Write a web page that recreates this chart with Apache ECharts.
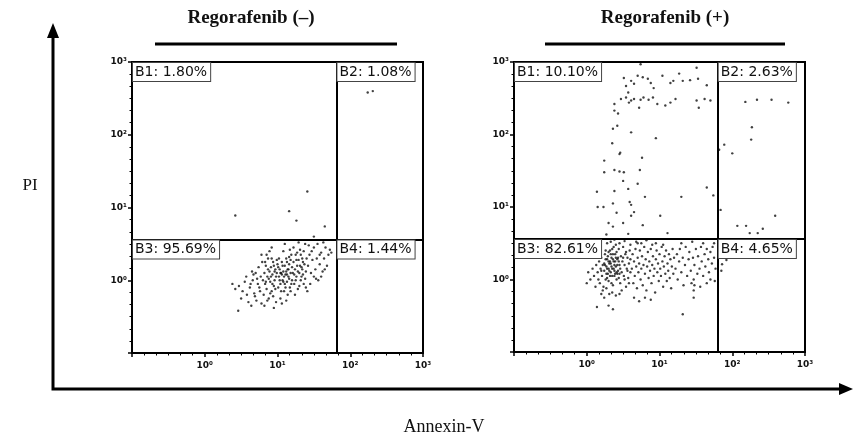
<!DOCTYPE html>
<html>
<head>
<meta charset="utf-8">
<script src="https://cdn.jsdelivr.net/npm/echarts@6/dist/echarts.min.js"></script>
<style>
  html, body { margin: 0; padding: 0; background: #fff; }
  #chart { width: 854px; height: 443px; }
</style>
</head>
<body>
<div id="chart"></div>
<script>
// panel titles and quadrant labels
const panelTitles = ['Regorafenib (–)', 'Regorafenib (+)'];
const quadNeg = ['B1: 1.80%', 'B2: 1.08%', 'B3: 95.69%', 'B4: 1.44%'];
const quadPos = ['B1: 10.10%', 'B2: 2.63%', 'B3: 82.61%', 'B4: 4.65%'];
const tickLabels = { '-1': '', '0': '10⁰', '1': '10¹', '2': '10²', '3': '10³' };

// quadrant gates, log10 units [annexin, PI]
const gateNeg = [1.81, 0.56];
const gatePos = [1.80, 0.56];

// events, log10(Annexin-V), log10(PI)
const eventsNeg = [
  [0.38,-0.05],[0.42,-0.12],[0.47,-0.08],[0.52,-0.15],[0.55,-0.02],[0.58,-0.2],[0.46,-0.42],[0.6,-0.3],[0.5,-0.25],[0.57,0.05],
  [0.62,-0.1],[0.64,-0.35],[0.66,0.0],[0.68,-0.18],[0.7,0.1],[0.71,-0.28],[0.73,-0.05],[0.74,0.18],[0.76,-0.15],[0.77,0.05],
  [0.78,-0.32],[0.79,0.25],[0.65,0.12],[0.69,-0.22],[0.72,0.02],[0.75,-0.1],[0.8,0.0],[0.63,-0.05],[0.67,0.08],[0.78,0.35],
  [0.81,-0.2],[0.82,0.1],[0.83,-0.05],[0.84,0.2],[0.85,-0.12],[0.86,0.05],[0.87,0.3],[0.88,-0.25],[0.89,0.12],[0.9,-0.02],
  [0.91,0.18],[0.92,-0.15],[0.93,0.08],[0.94,0.25],[0.95,-0.08],[0.96,0.0],[0.97,0.15],[0.98,-0.3],[0.99,0.1],[1.0,0.22],
  [0.82,-0.35],[0.85,0.35],[0.88,0.02],[0.9,-0.18],[0.92,0.3],[0.94,-0.22],[0.96,0.12],[0.98,0.05],[0.84,-0.02],[0.87,0.15],
  [0.91,0.05],[0.93,-0.05],[0.95,0.2],[0.97,-0.12],[0.99,0.28],[0.86,-0.28],[0.89,0.4],[0.92,0.45],[0.95,-0.38],[0.83,0.25],
  [1.01,-0.1],[1.02,0.05],[1.03,0.15],[1.04,-0.05],[1.05,0.1],[1.06,0.25],[1.07,0.0],[1.08,0.12],[1.09,-0.15],[1.1,0.2],
  [1.11,0.08],[1.12,0.3],[1.13,-0.02],[1.14,0.15],[1.15,0.05],[1.16,0.22],[1.17,-0.1],[1.18,0.1],[1.19,0.35],[1.2,0.0],
  [1.02,0.3],[1.04,-0.25],[1.06,0.08],[1.08,0.4],[1.1,-0.05],[1.12,0.12],[1.14,-0.2],[1.16,0.02],[1.18,0.28],[1.03,0.0],
  [1.05,-0.15],[1.07,0.2],[1.09,0.05],[1.11,-0.1],[1.13,0.25],[1.15,0.15],[1.17,0.42],[1.19,-0.05],[1.01,0.18],[1.06,-0.32],
  [1.1,0.5],[1.13,0.08],[1.16,0.32],[1.2,0.18],[1.04,0.1],[1.08,-0.02],[1.12,-0.28],[1.18,-0.15],
  [1.21,0.1],[1.22,0.25],[1.23,-0.05],[1.24,0.15],[1.25,0.35],[1.26,0.05],[1.27,0.2],[1.28,-0.12],[1.29,0.28],[1.3,0.1],
  [1.31,0.42],[1.32,0.0],[1.33,0.18],[1.34,0.3],[1.35,0.08],[1.36,-0.05],[1.37,0.22],[1.38,0.5],[1.39,0.12],[1.4,0.3],
  [1.22,0.45],[1.24,-0.2],[1.26,0.28],[1.28,0.12],[1.3,-0.08],[1.32,0.35],[1.34,0.15],[1.36,0.4],[1.38,0.02],[1.23,0.08],
  [1.27,0.38],[1.31,0.2],[1.35,0.25],[1.39,-0.1],[1.25,0.0],[1.29,0.52],[1.33,0.05],
  [1.42,0.2],[1.44,0.35],[1.46,0.1],[1.48,0.28],[1.5,0.45],[1.52,0.15],[1.54,0.3],[1.56,0.0],[1.58,0.22],[1.6,0.38],
  [1.62,0.12],[1.64,0.3],[1.66,0.45],[1.68,0.2],[1.7,0.35],[1.72,0.42],[1.45,-0.05],[1.5,0.05],[1.55,0.5],[1.6,0.05],
  [1.65,0.15],[1.43,0.48],[1.47,0.4],[1.53,0.02],[1.58,0.35],[1.63,0.52],[1.74,0.38],[1.41,-0.15],
  // sparse events above / right of the gate
  [0.42,0.89],[1.16,0.95],[1.26,0.82],[1.41,1.22],[1.65,0.74],[2.24,2.58],[2.31,2.6],[1.5,0.6],[1.9,0.42]
];

const eventsPos = [
  // upper band (late apoptotic / necrotic)
  [0.74,2.97],[0.51,2.78],[0.61,2.74],[0.7,2.81],[0.77,2.79],[0.84,2.77],[0.88,2.71],[0.92,2.64],[0.54,2.67],[0.65,2.7],
  [0.57,2.58],[1.04,2.81],[1.15,2.71],[1.19,2.74],[1.27,2.84],[1.32,2.74],[1.42,2.75],[1.51,2.92],[1.53,2.77],[1.65,2.68],
  [0.38,2.42],[0.47,2.49],[0.54,2.51],[0.61,2.47],[0.65,2.49],[0.74,2.48],[0.78,2.51],[0.85,2.48],[0.91,2.51],[0.97,2.42],
  [1.08,2.4],[1.15,2.44],[1.22,2.49],[1.51,2.47],[1.62,2.49],[1.7,2.47],[1.54,2.37],[0.72,2.37],[0.58,2.44],
  [0.38,2.33],[0.43,2.29],[0.36,2.08],[0.42,2.12],[0.61,2.03],[0.95,1.95],[0.35,1.88],[0.46,1.75],[0.45,1.73],[0.24,1.64],
  [0.76,1.68],[0.38,1.51],[0.45,1.49],[0.51,1.48],[0.24,1.48],[0.73,1.51],[0.5,1.36],[0.7,1.32],[0.57,1.25],[0.14,1.21],
  [0.38,1.22],[1.65,1.27],[0.8,1.14],[1.3,1.14],[1.74,1.16],[0.59,1.07],[0.61,1.03],[0.36,1.05],[0.15,1.0],[0.23,1.0],
  [0.41,0.92],[0.65,0.93],[0.61,0.88],[1.01,0.88],[0.3,0.78],[0.5,0.78],[0.77,0.75],[0.36,0.73],[0.27,0.62],[0.57,0.63],
  [1.11,0.64],
  // B2
  [2.18,2.45],[2.34,2.48],[2.54,2.48],[2.77,2.44],[2.27,2.1],[2.26,1.93],[1.82,1.79],[1.89,1.86],[2.0,1.74],[1.84,0.96],
  [2.59,0.88],[2.07,0.74],[2.19,0.74],[2.24,0.64],[2.35,0.64],[2.42,0.7],
  // main cluster
  [0.15,0.1],[0.17,0.25],[0.18,-0.05],[0.19,0.15],[0.2,0.3],[0.21,0.05],[0.22,0.2],[0.23,-0.1],[0.24,0.12],[0.25,0.35],
  [0.26,0.0],[0.27,0.18],[0.28,0.28],[0.29,0.08],[0.3,-0.02],[0.31,0.22],[0.32,0.4],[0.33,0.1],[0.34,0.3],[0.35,0.15],
  [0.36,-0.08],[0.37,0.25],[0.38,0.05],[0.39,0.35],[0.4,0.18],[0.41,0.0],[0.42,0.28],[0.43,0.12],[0.44,0.42],[0.45,0.2],
  [0.46,-0.05],[0.47,0.32],[0.48,0.1],[0.49,0.25],[0.5,0.45],[0.51,0.05],[0.52,0.2],[0.53,0.35],[0.54,-0.1],[0.55,0.15],
  [0.56,0.3],[0.57,0.02],[0.58,0.22],[0.59,0.4],[0.6,0.1],
  [0.16,0.0],[0.18,0.32],[0.2,0.12],[0.22,-0.15],[0.24,0.22],[0.26,0.4],[0.28,0.02],[0.3,0.15],[0.32,0.25],[0.34,-0.05],
  [0.36,0.35],[0.38,0.2],[0.4,0.48],[0.42,0.08],[0.44,0.25],[0.46,0.15],[0.48,-0.15],[0.5,0.3],[0.52,0.0],[0.54,0.38],
  [0.56,0.12],[0.58,-0.05],[0.6,0.28],
  [0.25,0.2],[0.27,0.08],[0.29,0.32],[0.31,0.12],[0.33,0.22],[0.35,0.05],[0.37,0.15],[0.39,0.25],[0.41,0.1],[0.43,0.3],
  [0.45,0.08],[0.26,0.28],[0.28,0.15],[0.3,0.38],[0.32,0.05],[0.34,0.18],[0.36,0.28],[0.38,0.12],[0.4,0.3],[0.42,0.2],
  [0.44,0.02],[0.3,0.25],[0.33,0.35],[0.35,0.42],[0.37,0.45],[0.39,0.08],[0.41,0.38],[0.27,-0.12],[0.31,-0.2],[0.35,-0.18],
  [0.4,-0.22],[0.45,-0.2],[0.2,-0.2],[0.24,-0.25],[0.13,0.2],[0.1,0.05],[0.08,0.15],[0.05,0.0],[0.12,-0.1],[0.02,0.1],
  [0.0,-0.05],
  [0.28,0.5],[0.33,0.52],[0.38,0.55],[0.45,0.5],[0.52,0.53],[0.6,0.48],[0.68,0.52],[0.75,0.5],[0.82,0.54],[0.9,0.48],
  [0.62,0.15],[0.63,0.35],[0.64,-0.05],[0.65,0.25],[0.66,0.05],[0.67,0.42],[0.68,0.18],[0.69,-0.12],[0.7,0.3],[0.71,0.1],
  [0.72,0.22],[0.73,0.4],[0.74,0.0],[0.75,0.15],[0.76,0.32],[0.77,-0.08],[0.78,0.2],[0.79,0.45],[0.8,0.08],[0.81,0.28],
  [0.82,-0.15],[0.83,0.18],[0.84,0.38],[0.85,0.02],[0.86,0.25],[0.87,0.12],[0.88,0.42],[0.89,-0.05],[0.9,0.2],[0.91,0.32],
  [0.92,0.05],[0.93,0.15],[0.94,-0.18],[0.95,0.28],[0.96,0.4],[0.97,0.1],[0.98,0.22],[0.99,-0.02],[1.0,0.35],[1.01,0.15],
  [1.02,0.05],[1.03,0.45],[1.04,0.25],[1.05,-0.1],[1.06,0.18],[1.07,0.32],[1.08,0.08],[1.09,0.4],[1.1,-0.02],[1.11,0.22],
  [1.12,0.12],[1.13,0.35],[1.14,0.02],[1.15,0.28],[1.16,-0.12],[1.17,0.18],[1.18,0.42],[1.19,0.08],[1.2,0.3],
  [0.65,-0.25],[0.72,-0.3],[0.8,-0.25],[0.88,-0.28],[0.7,0.5],[0.95,0.5],[1.05,0.48],
  [1.22,0.15],[1.24,0.35],[1.25,0.0],[1.27,0.25],[1.28,0.42],[1.3,0.1],[1.32,0.3],[1.33,-0.08],[1.35,0.2],[1.36,0.45],
  [1.38,0.05],[1.4,0.28],[1.41,0.38],[1.43,0.12],[1.44,-0.05],[1.46,0.3],[1.48,0.2],[1.5,0.42],[1.52,0.08],[1.53,0.32],
  [1.55,0.15],[1.57,0.45],[1.58,0.25],[1.6,0.05],[1.62,0.35],[1.63,0.18],[1.65,0.42],[1.67,0.28],[1.68,0.1],[1.7,0.38],
  [1.72,0.22],[1.73,0.45],[1.75,0.3],[1.77,0.15],[1.47,-0.15],[1.47,-0.25],[1.48,-0.08],[1.47,0.0],[1.56,-0.1],[1.65,-0.05],
  [1.7,0.0],[1.76,-0.02],[1.3,0.5],[1.45,0.52],[1.6,0.5],[1.75,0.5],
  [0.14,-0.38],[0.3,-0.36],[0.36,-0.41],[1.32,-0.48],[1.86,0.21],[1.92,0.27],[1.85,0.12],[2.03,0.33],[1.83,0.4],[1.95,0.45]
];

const chart = echarts.init(document.getElementById('chart'));
const grids = [
  { left: 132, top: 62, width: 291, height: 291 },
  { left: 514, top: 62, width: 291, height: 290 }
];
const gates = [gateNeg, gatePos];
const quads = [quadNeg, quadPos];

function axis(i, kind) {
  return {
    type: 'value', gridIndex: i, min: -1, max: 3, interval: 1,
    axisLine: { show: true, onZero: false, lineStyle: { color: '#000', width: 2 } },
    axisTick: { show: true, length: 4, lineStyle: { color: '#000', width: 1.5 } },
    minorTick: { show: true, splitNumber: 6, length: 2.5, lineStyle: { color: '#000', width: 1 } },
    splitLine: { show: false },
    axisLabel: {
      fontSize: 9, fontWeight: 'bold', color: '#111', fontFamily: 'DejaVu Sans',
      margin: kind === 'x' ? 8 : 5,
      formatter: v => tickLabels[String(v)] || ''
    }
  };
}

const graphics = [];
// panel titles with underline
const titleCx = [251, 665];
const lineX = [[155, 397], [545, 785]];
panelTitles.forEach((t, i) => {
  graphics.push({ type: 'text', x: titleCx[i], y: 18, style: { text: t, font: 'bold 19px "Liberation Serif"', fill: '#111', align: 'center', verticalAlign: 'middle' } });
  graphics.push({ type: 'line', shape: { x1: lineX[i][0], y1: 44, x2: lineX[i][1], y2: 44 }, style: { stroke: '#000', lineWidth: 3 } });
});
// quadrant label boxes
grids.forEach((g, i) => {
  const gx = g.left + (gates[i][0] + 1) / 4 * g.width;
  const gy = g.top + (3 - gates[i][1]) / 4 * g.height;
  const pos = [[g.left + 1, g.top + 1], [gx + 1, g.top + 1], [g.left + 1, gy + 1], [gx + 1, gy + 1]];
  quads[i].forEach((q, k) => {
    graphics.push({ type: 'text', x: pos[k][0], y: pos[k][1], z: 10, style: {
      text: q, font: '14px "DejaVu Sans"', fill: '#111', backgroundColor: '#fff',
      borderColor: '#444', borderWidth: 1, padding: [2, 3, 2, 2]
    } });
  });
});
// outer arrows
graphics.push({ type: 'polyline', shape: { points: [[53, 36], [53, 389], [842, 389]] }, style: { stroke: '#000', lineWidth: 3, fill: null } });
graphics.push({ type: 'polygon', shape: { points: [[53, 23], [47, 38], [59, 38]] }, style: { fill: '#000' } });
graphics.push({ type: 'polygon', shape: { points: [[853, 389], [839, 383], [839, 395]] }, style: { fill: '#000' } });
graphics.push({ type: 'text', x: 30, y: 186, style: { text: 'PI', font: '17px "Liberation Serif"', fill: '#111', align: 'center', verticalAlign: 'middle' } });
graphics.push({ type: 'text', x: 444, y: 427, style: { text: 'Annexin-V', font: '18px "Liberation Serif"', fill: '#111', align: 'center', verticalAlign: 'middle' } });

const option = {
  animation: false,
  backgroundColor: '#fff',
  grid: grids.map(g => Object.assign({ show: true, borderColor: '#000', borderWidth: 2, backgroundColor: 'transparent' }, g)),
  xAxis: [axis(0, 'x'), axis(1, 'x')],
  yAxis: [axis(0, 'y'), axis(1, 'y')],
  series: [eventsNeg, eventsPos].map((d, i) => ({
    type: 'scatter', xAxisIndex: i, yAxisIndex: i, data: d,
    symbolSize: 2.4, itemStyle: { color: '#111' },
    markLine: {
      silent: true, symbol: 'none', label: { show: false },
      lineStyle: { color: '#000', width: 2, type: 'solid' },
      data: [{ xAxis: gates[i][0] }, { yAxis: gates[i][1] }]
    }
  })),
  graphic: graphics
};
chart.setOption(option);
</script>
</body>
</html>
